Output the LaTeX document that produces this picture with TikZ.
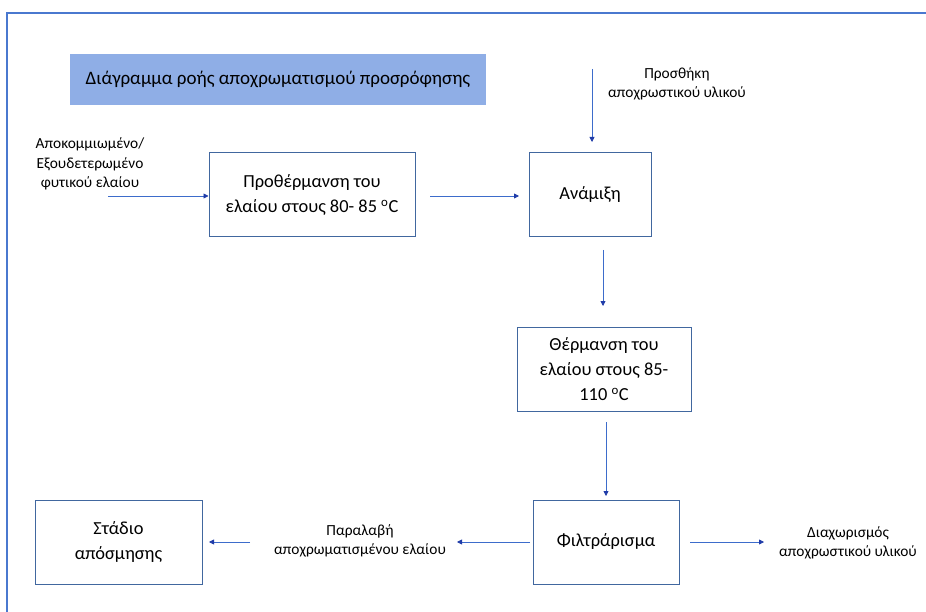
\documentclass[tikz,border=0pt]{standalone}
\usepackage{fontspec}
\setmainfont{Carlito}
\usetikzlibrary{arrows.meta}
\definecolor{framecol}{HTML}{4A78CF}
\definecolor{boxcol}{HTML}{41679F}
\definecolor{linecol}{HTML}{3D6CCB}
\definecolor{tipcol}{HTML}{1F3BA8}
\definecolor{titlefill}{HTML}{8FAEE6}
\tikzset{
  stepbox/.style={draw=boxcol, line width=1pt, fill=white, minimum width=#1, minimum height=84pt,
    align=center, font=\fontsize{18.4}{25}\selectfont, inner sep=0pt},
  lbl/.style={align=center, font=\fontsize{15.4}{19.5}\selectfont, inner sep=0pt},
  flow/.style={draw=linecol, line width=0.8pt, -{Triangle[length=5pt,width=5pt,fill=tipcol,color=tipcol]}},
}
\newcommand{\degC}{\textsuperscript{o}C}
\begin{document}
\begin{tikzpicture}[x=1pt,y=-1pt]
  \useasboundingbox (0,0) rectangle (926,612);
  % outer frame (top and left edges)
  \draw[framecol, line width=1.6pt] (7,612) -- (7,13) -- (926,13);
  % title banner
  \node[fill=titlefill, minimum width=416pt, minimum height=51pt, inner sep=0pt,
        font=\fontsize{19}{22}\selectfont] (title) at (278,79.5) {Διάγραμμα ροής αποχρωματισμού προσρόφησης};
  % process steps
  \node[stepbox=206pt] (pre) at (312,195) {Προθέρμανση του\\ελαίου στους 80- 85 \degC};
  \node[stepbox=122pt] (mix) at (590,195) {Ανάμιξη};
  \node[stepbox=174pt] (heat) at (604,369) {Θέρμανση του\\ελαίου στους 85-\\110 \degC};
  \node[stepbox=146pt] (filt) at (606,542) {Φιλτράρισμα};
  \node[stepbox=167pt] (deod) at (118.5,542.5) {Στάδιο\\απόσμησης};
  % side labels
  \node[lbl] (feed) at (90,164) {Αποκομμιωμένο/\\Εξουδετερωμένο\\φυτικού ελαίου};
  \node[lbl] (add) at (677,84) {Προσθήκη\\αποχρωστικού υλικού};
  \node[lbl] (recv) at (360,541) {Παραλαβή\\αποχρωματισμένου ελαίου};
  \node[lbl] (sep) at (848,543) {Διαχωρισμός\\αποχρωστικού υλικού};
  % connector end points
  \coordinate (feedS) at (108,196);
  \coordinate (preE) at (430,196);
  \coordinate (mixW) at (519,196);
  \coordinate (addS) at (592,69);
  \coordinate (addE) at (592,142);
  \coordinate (mixS) at (603,250);
  \coordinate (heatN) at (603,306);
  \coordinate (heatS) at (606,422);
  \coordinate (filtN) at (606,496);
  \coordinate (filtL) at (530,542);
  \coordinate (recvE) at (457,542);
  \coordinate (recvS) at (250,542);
  \coordinate (deodE) at (209,542);
  \coordinate (filtR) at (690,542);
  \coordinate (sepW) at (764,542);
  % connectors
  \draw[flow] (feedS) -- (pre.west |- feedS);
  \draw[flow] (preE) -- (mixW);
  \draw[flow] (addS) -- (addE);
  \draw[flow] (mixS) -- (heatN);
  \draw[flow] (heatS) -- (filtN);
  \draw[flow] (filtL) -- (recvE);
  \draw[flow] (recvS) -- (deodE);
  \draw[flow] (filtR) -- (sepW);
\end{tikzpicture}
\end{document}
